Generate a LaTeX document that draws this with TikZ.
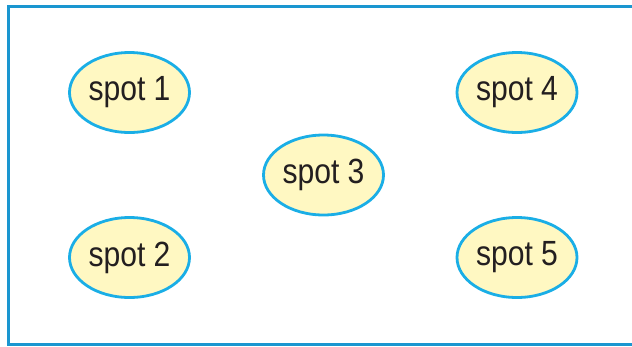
\documentclass[tikz,border=0pt]{standalone}
\usepackage{fontspec}
\usetikzlibrary{shapes.geometric}
\setmainfont{Liberation Sans}[FakeStretch=0.86]
\definecolor{framecol}{HTML}{1A96D0}
\definecolor{spotline}{HTML}{1AAEE6}
\definecolor{spotfill}{HTML}{FFF8C2}
\definecolor{inkcol}{HTML}{231F20}
\begin{document}
\begin{tikzpicture}[x=1pt,y=-1pt,
  spot/.style={ellipse, draw=spotline, fill=spotfill, line width=2.8pt,
    minimum width=120pt, minimum height=80pt, inner sep=0pt,
    text=inkcol, font=\fontsize{35}{40}\selectfont}]
\useasboundingbox (0,0) rectangle (632,346);
% field outline, open at the right edge
\draw[framecol, line width=3pt] (640,6) -- (8.3,6) -- (8.3,344) -- (640,344);
\node[spot] (s1) at (129.5,92.5) {spot 1};
\node[spot] (s2) at (129.5,257.5) {spot 2};
\node[spot] (s3) at (323.5,175) {spot 3};
\node[spot] (s4) at (517,92.5) {spot 4};
\node[spot] (s5) at (517,257.5) {spot 5};
\end{tikzpicture}
\end{document}
